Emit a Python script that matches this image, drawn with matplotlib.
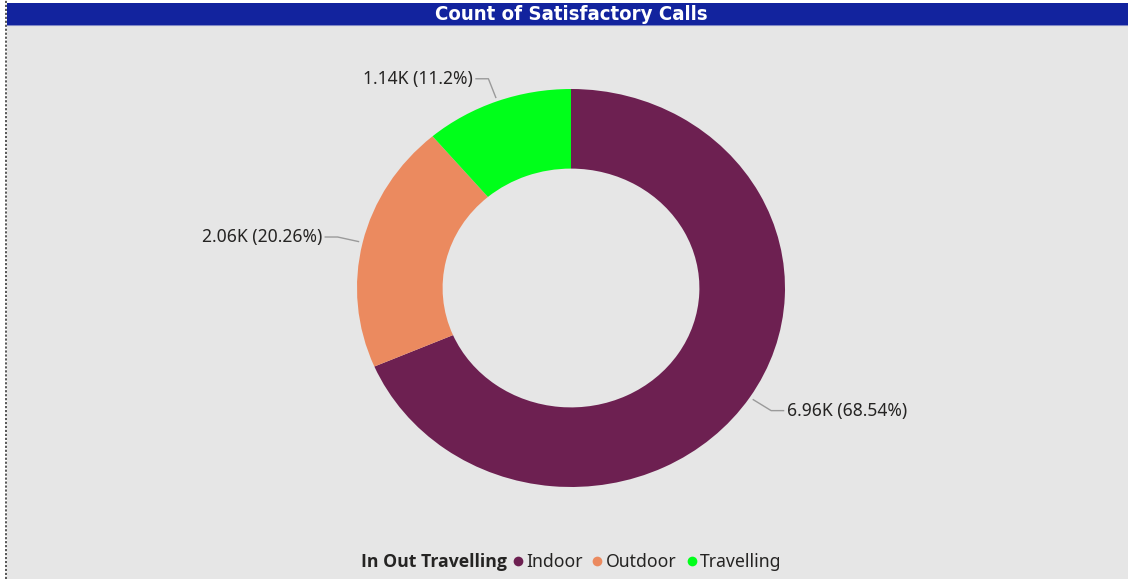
import matplotlib
matplotlib.use("Agg")
import matplotlib.pyplot as plt
import numpy as np
from matplotlib.patches import Rectangle
from matplotlib.lines import Line2D

# Data
categories = ["Indoor", "Outdoor", "Travelling"]
counts = [6960, 2057, 1137]
colors = ["#6D2051", "#EB8A5F", "#00FF1A"]
legend_title = "In Out Travelling"
chart_title = "Count of Satisfactory Calls"

W, H = 1128, 579
DPI = 100
TEXT_COLOR = "#252423"
FONT = ["Noto Sans", "DejaVu Sans"]
BOLD_FONT = ["Open Sans", "DejaVu Sans"]

fig = plt.figure(figsize=(W / DPI, H / DPI), dpi=DPI, facecolor="white")


def fx(px):
    return px / W


def fy(py):
    # pixel measured from the top -> figure fraction
    return 1 - py / H


# Visual panel background and header bar
fig.patches.append(Rectangle((fx(7), 0), 1 - fx(7), fy(25), transform=fig.transFigure,
                             facecolor="#E6E6E6", edgecolor="none", zorder=-2))
fig.patches.append(Rectangle((fx(7), fy(25)), 1 - fx(7), fy(3) - fy(25), transform=fig.transFigure,
                             facecolor="#12239E", edgecolor="none", zorder=-1))
fig.add_artist(Line2D([fx(7), 1], [fy(25), fy(25)], transform=fig.transFigure,
                      color="#8088C6", linewidth=0.8, zorder=-1))
# Dotted selection border on the left
fig.add_artist(Line2D([fx(5.5), fx(5.5)], [0, 1], transform=fig.transFigure,
                      color="#4A4A4A", linewidth=1.3, linestyle=(0, (1.2, 1.0)), zorder=-1))

fig.text(fx(571), fy(15), chart_title, ha="center", va="center", color="white",
         fontsize=14.6, fontweight="bold", family="DejaVu Sans", fontstretch="condensed", zorder=3)

# Donut
ax = fig.add_axes([fx(357), fy(487), fx(428), 398 / H], zorder=5)
ax.patch.set_visible(False)
wedges, _ = ax.pie(counts, colors=colors, startangle=90, counterclock=False, radius=1,
                   wedgeprops=dict(width=0.4, edgecolor="none"))
ax.set_aspect("auto")
ax.set_xlim(-1, 1)
ax.set_ylim(-1, 1)
ax.axis("off")

total = sum(counts)
for w, c in zip(wedges, counts):
    ang = np.deg2rad((w.theta1 + w.theta2) / 2)
    ca, sa = np.cos(ang), np.sin(ang)
    x0, y0 = 1.02 * ca, 1.02 * sa
    x1, y1 = 1.12 * ca, 1.12 * sa
    side = 1 if ca >= 0 else -1
    x2 = x1 + side * 0.058
    ax.plot([x0, x1, x2], [y0, y1, y1], color="#9A9A9A", linewidth=1.0, clip_on=False)
    pct = f"{100 * c / total:.2f}".rstrip("0").rstrip(".")
    label = f"{c / 1000:.2f}K ({pct}%)"
    ax.text(x2 + side * 0.016, y1, label, ha="left" if side > 0 else "right", va="center",
            fontsize=12.6, color=TEXT_COLOR, family=FONT, clip_on=False)

# Legend: bold title followed by the category entries
fig.canvas.draw()
renderer = fig.canvas.get_renderer()
lt = fig.text(fx(361), fy(562), legend_title, ha="left", va="center", fontsize=12.7,
              fontweight="bold", color=TEXT_COLOR, family=BOLD_FONT)
bb = lt.get_window_extent(renderer)
handles = [Line2D([], [], marker="o", linestyle="none", markersize=7,
                  markerfacecolor=c, markeredgecolor="none") for c in colors]
fig.legend(handles, categories, loc="center left", bbox_to_anchor=(bb.x1 / W + 0.004, fy(562)),
           ncol=3, frameon=False, handlelength=0.7, handletextpad=0.12, columnspacing=0.5,
           borderpad=0, borderaxespad=0, prop={"family": FONT, "size": 12.7}, labelcolor=TEXT_COLOR)

fig.savefig("out.png", dpi=DPI, facecolor="white")
